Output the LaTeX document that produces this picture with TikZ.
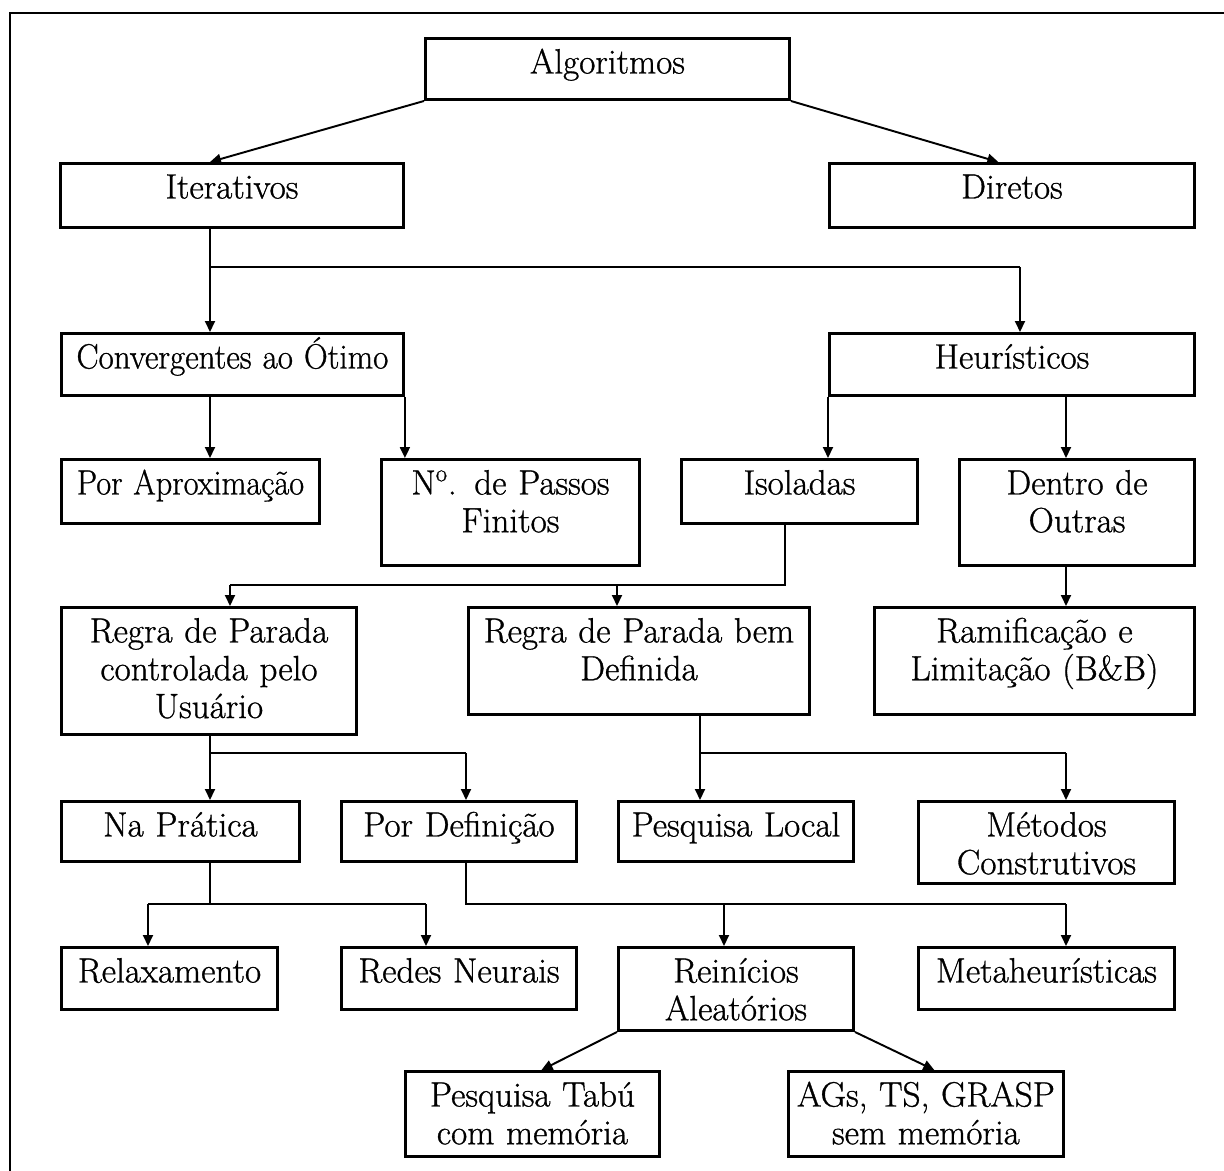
\documentclass[tikz,border=0pt]{standalone}
\usepackage{amsmath}
\usepackage{graphicx}
\usepackage{fontspec}
\usepackage{tikz}
\usetikzlibrary{arrows.meta,calc}

\newfontfamily\caixafont{lmroman17-regular.otf}[FakeBold=0.9]

\tikzset{
  caixa/.style 2 args={draw, line width=1.7pt, anchor=north west, inner sep=0pt, align=center,
    text width=#1, text height=0.70cm, text depth=#2, font=\caixafont\fontsize{20}{21.5}\selectfont},
  linha/.style={line width=1.1pt},
  seta/.style={line width=1.1pt, -{Triangle[length=0.22cm,width=0.2cm]}}
}

\begin{document}
\begin{tikzpicture}[x=0.02cm,y=-0.02cm]
        \useasboundingbox (0,0) rectangle (1224,1170);
        \draw[linha] (10,1172) -- (10,13) -- (1226,13);

        \node[caixa={7.28cm}{0.52cm}] (alg) at (424,37) {Algoritmos};
        \node[caixa={6.86cm}{0.58cm}] (iter) at (59,162) {Iterativos};
        \node[caixa={7.30cm}{0.58cm}] (dir) at (828,162) {Diretos};
        \node[caixa={6.84cm}{0.54cm}] (conv) at (60,332) {\scalebox{0.94}[1]{Convergentes ao Ótimo}};
        \node[caixa={7.30cm}{0.54cm}] (heur) at (828,332) {Heurísticos};
        \node[caixa={5.16cm}{0.58cm}] (aprox) at (60,458) {\scalebox{0.92}[1]{Por Aproximação}};
        \node[caixa={5.16cm}{1.42cm}] (passos) at (380,458) {N\textsuperscript{o}. de Passos\\Finitos};
        \node[caixa={4.72cm}{0.58cm}] (isol) at (680,458) {Isoladas};
        \node[caixa={4.70cm}{1.42cm}] (dentro) at (958,458) {Dentro de\\Outras};
        \node[caixa={5.90cm}{1.84cm}] (usu) at (60,606) {Regra de Parada\\controlada pelo\\Usuário};
        \node[caixa={6.82cm}{1.44cm}] (bemdef) at (467,606) {Regra de Parada bem\\Definida};
        \node[caixa={6.40cm}{1.44cm}] (bb) at (873,606) {Ramificação e\\Limitação (B\&B)};
        \node[caixa={4.76cm}{0.50cm}] (pratica) at (60,800) {Na Prática};
        \node[caixa={4.70cm}{0.50cm}] (pordef) at (340,800) {Por Definição};
        \node[caixa={4.70cm}{0.50cm}] (local) at (617,800) {Pesquisa Local};
        \node[caixa={5.12cm}{0.94cm}] (constr) at (917,800) {Métodos\\Construtivos};
        \node[caixa={4.32cm}{0.54cm}] (relax) at (60,946) {Relaxamento};
        \node[caixa={4.70cm}{0.54cm}] (redes) at (340,946) {Redes Neurais};
        \node[caixa={4.70cm}{0.96cm}] (reinic) at (617,946) {Reinícios\\Aleatórios};
        \node[caixa={5.12cm}{0.54cm}] (meta) at (917,946) {Metaheurísticas};
        \node[caixa={5.08cm}{1.00cm}] (tabu) at (404,1070) {Pesquisa Tabú\\com memória};
        \node[caixa={5.50cm}{1.00cm}] (ags) at (787,1070) {AGs, TS, GRASP\\sem memória};

        \coordinate (j1) at (210,267);
        \coordinate (j2) at (1020,267);
        \coordinate (j3) at (785,585);
        \coordinate (j4) at (230,585);
        \coordinate (j5) at (617,585);
        \coordinate (j6) at (210,753);
        \coordinate (j7) at (466,753);
        \coordinate (j8) at (700,753);
        \coordinate (j9) at (1066,753);
        \coordinate (j10) at (210,904);
        \coordinate (j11) at (148,904);
        \coordinate (j12) at (426,904);
        \coordinate (j13) at (466,904);
        \coordinate (j14) at (724,904);
        \coordinate (j15) at (1066,904);

        \draw[seta] (alg.south west) -- (iter.north -| j1);
        \draw[seta] (alg.south east) -- ($(dir.north west)!0.463!(dir.north east)$);
        \draw[linha] (iter.south -| j1) -- (j1) -- (j2);
        \draw[seta] (j1) -- (conv.north -| j1);
        \draw[seta] (j2) -- (heur.north -| j2);
        \draw[seta] (conv.south -| j1) -- (aprox.north -| j1);
        \draw[seta] (conv.south east) -- (conv.south east |- passos.north);
        \draw[seta] (heur.south west) -- (heur.south west |- isol.north);
        \draw[seta] (heur.south -| j9) -- (dentro.north -| j9);
        \draw[seta] (dentro.south -| j9) -- (bb.north -| j9);
        \draw[linha] (isol.south -| j3) -- (j3) -- (j4);
        \draw[seta] (j4) -- (usu.north -| j4);
        \draw[seta] (j5) -- (bemdef.north -| j5);
        \draw[linha] (usu.south -| j6) -- (j6) -- (j7);
        \draw[seta] (j6) -- (pratica.north -| j6);
        \draw[seta] (j7) -- (pordef.north -| j7);
        \draw[linha] (bemdef.south -| j8) -- (j8) -- (j9);
        \draw[seta] (j8) -- (local.north -| j8);
        \draw[seta] (j9) -- (constr.north -| j9);
        \draw[linha] (pratica.south -| j10) -- (j10);
        \draw[linha] (j11) -- (j12);
        \draw[seta] (j11) -- (relax.north -| j11);
        \draw[seta] (j12) -- (redes.north -| j12);
        \draw[linha] (pordef.south -| j13) -- (j13) -- (j15);
        \draw[seta] (j14) -- (reinic.north -| j14);
        \draw[seta] (j15) -- (meta.north -| j15);
        \draw[seta] (reinic.south west) -- ($(tabu.north west)!0.535!(tabu.north east)$);
        \draw[seta] (reinic.south east) -- ($(ags.north west)!0.53!(ags.north east)$);
\end{tikzpicture}
\end{document}
